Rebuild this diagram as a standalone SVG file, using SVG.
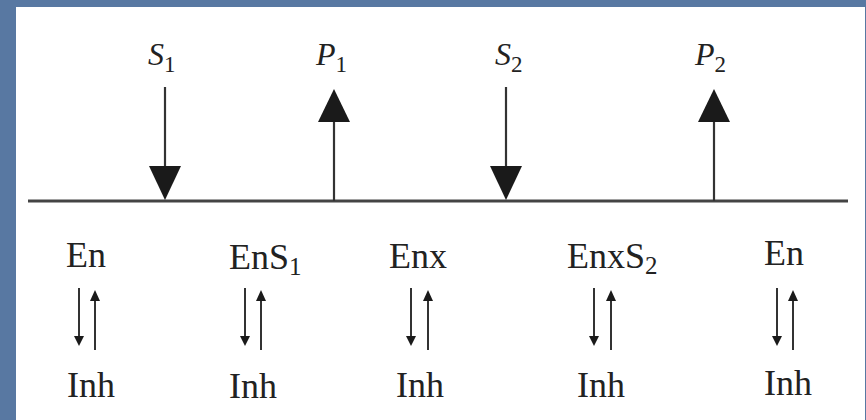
<svg xmlns="http://www.w3.org/2000/svg" width="866" height="420" viewBox="0 0 866 420">
<style>
.lbl{font-family:"Liberation Serif","Times New Roman",serif;fill:#222;}
.it{font-style:italic;font-size:32px;}
.sub{font-style:normal;font-size:23px;}
.st{font-size:36px;}
.ss{font-size:25px;}
.ln{stroke:#333;stroke-width:2.2;fill:none;}
.sm{stroke:#333;stroke-width:2;fill:none;}
.hd{fill:#1a1a1a;}
</style>
<rect x="0" y="0" width="866" height="420" fill="#5878a2"/>
<rect x="16" y="7" width="849" height="420" fill="#ffffff"/>
<g id="connectors">
<line class="ln" x1="28" y1="201" x2="848" y2="201" style="stroke-width:3;stroke:#444"/>
<line class="ln" x1="165" y1="87" x2="165" y2="170"/>
<polygon class="hd" points="149,166 181,166 165,200"/>
<line class="ln" x1="334" y1="118" x2="334" y2="201"/>
<polygon class="hd" points="318,122 350,122 334,89"/>
<line class="ln" x1="506" y1="87" x2="506" y2="170"/>
<polygon class="hd" points="490,166 522,166 506,200"/>
<line class="ln" x1="714" y1="118" x2="714" y2="201"/>
<polygon class="hd" points="698,122 730,122 714,89"/>
<g id="eq1"><line class="sm" x1="79" y1="288" x2="79" y2="338"/><polygon class="hd" points="74,336 84,336 79,346"/><line class="sm" x1="95" y1="298" x2="95" y2="350"/><polygon class="hd" points="90,301 100,301 95,290"/></g>
<g id="eq2"><line class="sm" x1="245" y1="288" x2="245" y2="338"/><polygon class="hd" points="240,336 250,336 245,346"/><line class="sm" x1="261" y1="298" x2="261" y2="350"/><polygon class="hd" points="256,301 266,301 261,290"/></g>
<g id="eq3"><line class="sm" x1="411" y1="288" x2="411" y2="338"/><polygon class="hd" points="406,336 416,336 411,346"/><line class="sm" x1="428" y1="298" x2="428" y2="350"/><polygon class="hd" points="423,301 433,301 428,290"/></g>
<g id="eq4"><line class="sm" x1="594" y1="288" x2="594" y2="338"/><polygon class="hd" points="589,336 599,336 594,346"/><line class="sm" x1="611" y1="298" x2="611" y2="350"/><polygon class="hd" points="606,301 616,301 611,290"/></g>
<g id="eq5"><line class="sm" x1="777" y1="288" x2="777" y2="338"/><polygon class="hd" points="772,336 782,336 777,346"/><line class="sm" x1="793" y1="298" x2="793" y2="350"/><polygon class="hd" points="788,301 798,301 793,290"/></g>
</g>
<g id="S1"><text class="lbl it" x="148" y="65">S<tspan class="sub" dy="7">1</tspan></text></g>
<g id="P1"><text class="lbl it" x="316" y="65">P<tspan class="sub" dy="7">1</tspan></text></g>
<g id="S2"><text class="lbl it" x="495" y="65">S<tspan class="sub" dy="7">2</tspan></text></g>
<g id="P2"><text class="lbl it" x="695" y="65">P<tspan class="sub" dy="7">2</tspan></text></g>
<g id="En1"><text class="lbl st" x="66" y="267">En</text></g>
<g id="EnS1"><text class="lbl st" x="229" y="269">EnS<tspan class="ss" dy="6">1</tspan></text></g>
<g id="Enx"><text class="lbl st" x="389" y="268">Enx</text></g>
<g id="EnxS2"><text class="lbl st" x="567" y="268">EnxS<tspan class="ss" dy="6">2</tspan></text></g>
<g id="En2"><text class="lbl st" x="764" y="265">En</text></g>
<g id="Inh1"><text class="lbl st" x="67" y="397">Inh</text></g>
<g id="Inh2"><text class="lbl st" x="229" y="398">Inh</text></g>
<g id="Inh3"><text class="lbl st" x="396" y="397">Inh</text></g>
<g id="Inh4"><text class="lbl st" x="577" y="397">Inh</text></g>
<g id="Inh5"><text class="lbl st" x="764" y="395">Inh</text></g>
</svg>
